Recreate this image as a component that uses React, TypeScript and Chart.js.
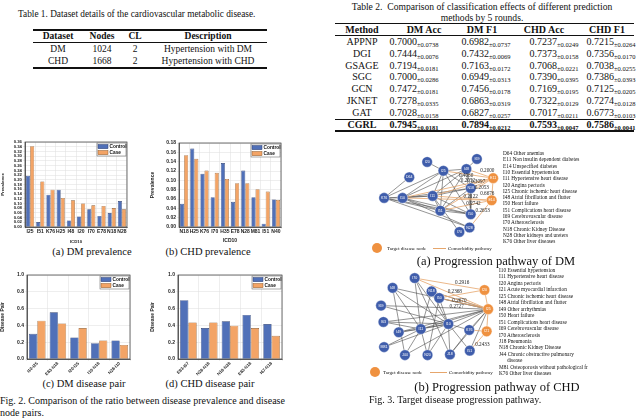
import React, { useEffect, useRef } from 'react';
import { Chart, registerables } from 'chart.js';
Chart.register(...registerables);

// ---------------- data ----------------
const t1Datasets = ['DM', 'CHD'];
const t1Nodes = ['1024', '1668'];
const t1CL = ['2', '2'];
const t1Desc = ['Hypertension with DM', 'Hypertension with CHD'];

const methods = ['APPNP', 'DGI', 'GSAGE', 'SGC', 'GCN', 'JKNET', 'GAT', 'CGRL'];
const dmAcc = ['0.7000', '0.7444', '0.7194', '0.7000', '0.7472', '0.7278', '0.7028', '0.7945'];
const dmAccStd = ['0.0738', '0.0076', '0.0181', '0.0286', '0.0181', '0.0335', '0.0158', '0.0181'];
const dmF1 = ['0.6982', '0.7432', '0.7163', '0.6949', '0.7456', '0.6863', '0.6827', '0.7894'];
const dmF1Std = ['0.0737', '0.0069', '0.0172', '0.0313', '0.0178', '0.0319', '0.0257', '0.0212'];
const chdAcc = ['0.7237', '0.7373', '0.7068', '0.7390', '0.7169', '0.7322', '0.7017', '0.7593'];
const chdAccStd = ['0.0249', '0.0158', '0.0221', '0.0395', '0.0195', '0.0129', '0.0211', '0.0047'];
const chdF1 = ['0.7215', '0.7356', '0.7038', '0.7386', '0.7125', '0.7274', '0.6773', '0.7586'];
const chdF1Std = ['0.0264', '0.0170', '0.0255', '0.0393', '0.0205', '0.0128', '0.0103', '0.0041'];

const dmPrevLabels = ['I25', 'I51', 'K76', 'H25', 'I48', 'I20', 'I70', 'E78', 'N18', 'N28'];
const dmPrevControl = [0.217, 0.021, 0.137, 0.158, 0.028, 0.045, 0.075, 0.047, 0.059, 0.110];
const dmPrevCase = [0.342, 0.193, 0.158, 0.123, 0.113, 0.100, 0.092, 0.089, 0.080, 0.075];

const chdPrevLabels = ['N18', 'H25', 'K76', 'I70', 'H35', 'E78', 'N28', 'M81', 'I51', 'N40'];
const chdPrevControl = [0.050, 0.168, 0.114, 0.064, 0.137, 0.054, 0.121, 0.064, 0.007, 0.059];
const chdPrevCase = [0.154, 0.146, 0.121, 0.116, 0.103, 0.094, 0.094, 0.081, 0.076, 0.058];

const dmPairLabels = ['I10-I25', 'E83-N18', 'I20-I25', 'I10-N18', 'N28-I10'];
const dmPairControl = [0.30, 0.556, 0.256, 0.188, 0.22];
const dmPairCase = [0.456, 0.424, 0.368, 0.22, 0.168];

const chdPairLabels = ['E83-I67', 'N28-N18', 'N18-N28', 'E83-N18', 'I67-N18'];
const chdPairControl = [0.70, 0.368, 0.448, 0.524, 0.416];
const chdPairCase = [0.436, 0.436, 0.396, 0.368, 0.276];

// DM progression network
const dmNodes = ['I20', 'I69', 'I25', 'I48', 'D64', 'E11', 'N18', 'K76', 'I10', 'I11', 'E14', 'I51', 'I50', 'N28', 'I70'];
const dmNodeX = [426.7, 480.7, 444.3, 469.3, 407.3, 498.3, 474, 380, 400, 432.7, 496.7, 441, 474, 472.7, 461.7];
const dmNodeY = [157.7, 154.3, 167.7, 165.7, 175, 176, 187.3, 198.3, 198.3, 196, 201, 212.7, 216.7, 231.7, 236.7];
const dmTargets = ['E11', 'E14'];
const dmGrayEdges = [
  ['K76', 'D64'], ['K76', 'I10'], ['K76', 'I25'], ['K76', 'I11'], ['K76', 'I51'], ['K76', 'I50'], ['K76', 'N28'],
  ['I10', 'I25'], ['I10', 'I48'], ['I10', 'N18'], ['I10', 'I11'], ['I10', 'I51'], ['I10', 'I50'], ['I10', 'N28'],
  ['I20', 'I25'], ['I25', 'I48'], ['I25', 'I11'], ['I25', 'I51'], ['I25', 'I50'], ['I25', 'N18'],
  ['I69', 'I48'], ['I48', 'I11'], ['I48', 'I51'], ['I48', 'N18'], ['I48', 'I50'],
  ['I11', 'N18'], ['I11', 'I51'], ['I11', 'I70'], ['I11', 'I50'], ['I51', 'N18'], ['I51', 'I50'], ['N18', 'I50'],
];
const dmOrangeEdges = [
  ['I25', 'E11'], ['I48', 'E11'], ['I10', 'E11'], ['I11', 'E11'], ['N18', 'E11'], ['I51', 'E11'],
  ['I10', 'E14'], ['I11', 'E14'], ['I51', 'E14'], ['N28', 'E14'], ['E11', 'E14'],
];
const dmWeights = ['0.2000', '0.4060', '0.2052', '0.3097', '0.2053', '0.6676', '0.2122', '0.2742', '0.2653'];
const dmWeightX = [492, 469, 471, 482, 486, 492, 474, 477, 487];
const dmWeightY = [168, 173, 178.5, 180, 187, 193, 197, 205, 213];
const dmLegendLines = [
  'D64 Other anemias', 'E11 Non insulin dependent diabetes', 'E14 Unspecified diabetes', 'I10 Essential hypertension',
  'I11 Hypertensive heart disease', 'I20 Angina pectoris', 'I25 Chronic ischemic heart disease', 'I48 Atrial fibrillation and flutter',
  'I50 Heart failure', 'I51 Complications heart disease', 'I69 Cerebrovascular disease', 'I70 Atherosclerosis',
  'N18 Chronic Kidney Disease', 'N28 Other kidneys and ureters', 'K76 Other liver diseases',
];

// CHD progression network
const chdNodes = ['I70', 'I48', 'N18', 'I50', 'I69', 'I20', 'I25', 'I63', 'I49', 'I11', 'I10', 'K76', 'I21', 'M81', 'J44', 'N20', 'J18', 'I51'];
const chdNodeX = [413.3, 389.3, 431.7, 440, 376.7, 489.3, 493.3, 379.3, 396, 420, 450, 472.7, 491.7, 380, 402.7, 427.3, 451.7, 473.3];
const chdNodeY = [273.3, 284.3, 288.3, 295.7, 304.3, 286.7, 308.3, 322.7, 334.3, 330.7, 325, 331.7, 333.3, 351, 360, 360, 359.3, 355];
const chdTargets = ['I20', 'I25', 'I21'];
const chdGrayEdges = [
  ['I48', 'I11'], ['I48', 'I10'], ['I48', 'J44'], ['I48', 'I25'],
  ['I70', 'I11'], ['I70', 'I10'], ['I70', 'J18'],
  ['I69', 'I10'], ['I69', 'I25'],
  ['I63', 'I10'], ['I63', 'I11'], ['I63', 'I25'],
  ['I49', 'I11'], ['I49', 'I25'], ['I49', 'I10'],
  ['I11', 'I10'], ['I11', 'I25'], ['I11', 'J44'], ['I11', 'N20'], ['I11', 'M81'],
  ['I10', 'I25'], ['I10', 'N20'], ['I10', 'J18'], ['I10', 'I51'], ['I10', 'K76'], ['M81', 'I10'],
  ['N18', 'I10'], ['N18', 'I11'], ['N18', 'I25'],
  ['I50', 'I10'], ['I50', 'N20'], ['I50', 'I25'],
  ['K76', 'I25'], ['K76', 'J18'], ['J44', 'I25'], ['J18', 'I25'], ['I51', 'I25'],
];
const chdOrangeEdges = [
  ['I70', 'I20'], ['I70', 'I25'], ['I50', 'I25'], ['N18', 'I25'], ['I50', 'I20'],
  ['I20', 'I25'], ['I25', 'I21'], ['I51', 'I21'], ['K76', 'I21'],
];
const chdWeights = ['0.2916', '0.2368', '0.2670', '0.2727', '0.2433'];
const chdWeightX = [465, 457, 462, 459, 487];
const chdWeightY = [278, 289, 298.5, 305, 348];
const chdLegendLines = [
  'I10 Essential hypertension', 'I11 Hypertensive heart disease', 'I20 Angina pectoris', 'I21 Acute myocardial infarction',
  'I25 Chronic ischemic heart disease', 'I48 Atrial fibrillation and flutter', 'I49 Other arrhythmias', 'I50 Heart failure',
  'I51 Complications heart disease', 'I69 Cerebrovascular disease', 'I70 Atherosclerosis', 'J18 Pneumonia',
  'N18 Chronic Kidney Disease', 'J44 Chronic obstructive pulmonary', '      disease',
  'M81 Osteoporosis without pathological fr', 'K76 Other liver diseases',
];

// ---------------- styles ----------------
const SERIF = '"Liberation Serif", "DejaVu Serif", serif';
const SANS = '"Liberation Sans", Arial, sans-serif';
const BAR_BLUE = '#5070b8';
const BAR_ORANGE = '#f3a466';
const NODE_BLUE = '#3f5dab';
const NODE_ORANGE = '#ef9140';

const framePlugin = {
  id: 'frame',
  afterDraw(chart: any) {
    const { ctx, chartArea: a } = chart;
    ctx.save();
    ctx.strokeStyle = '#333';
    ctx.lineWidth = 0.7;
    ctx.strokeRect(a.left, a.top, a.right - a.left, a.bottom - a.top);
    // legend box
    const w = 29, h = 13;
    const x = a.right - w - 1, y = a.top + 1;
    ctx.fillStyle = '#fff';
    ctx.fillRect(x, y, w, h);
    ctx.strokeStyle = '#555';
    ctx.lineWidth = 0.5;
    ctx.strokeRect(x, y, w, h);
    chart.data.datasets.forEach((ds: any, i: number) => {
      const yy = y + 1.5 + i * 6;
      ctx.fillStyle = ds.backgroundColor;
      ctx.fillRect(x + 1, yy, 10, 4.2);
      ctx.strokeStyle = ds.borderColor;
      ctx.strokeRect(x + 1, yy, 10, 4.2);
      ctx.fillStyle = '#111';
      ctx.font = `bold 4.8px ${SANS}`;
      ctx.textBaseline = 'middle';
      ctx.fillText(ds.label, x + 12.5, yy + 2.2);
    });
    ctx.restore();
  },
};

function BarPanel(p: any) {
  const ref = useRef<HTMLCanvasElement>(null);
  useEffect(() => {
    const tickFont = { size: p.tickSize, weight: 'bold' as const, family: SANS };
    const chart = new Chart(ref.current!, {
      type: 'bar',
      data: {
        labels: p.labels,
        datasets: [
          { label: 'Control', data: p.control, backgroundColor: BAR_BLUE, borderColor: '#2c3f70', borderWidth: 0.6, categoryPercentage: 0.8, barPercentage: 1 },
          { label: 'Case', data: p.caseVals, backgroundColor: BAR_ORANGE, borderColor: '#8c5a2c', borderWidth: 0.6, categoryPercentage: 0.8, barPercentage: 1 },
        ],
      },
      options: {
        animation: false,
        responsive: false,
        maintainAspectRatio: false,
        layout: { padding: { top: p.padTop, right: p.padRight, left: 0, bottom: 0 } },
        plugins: { legend: { display: false }, tooltip: { enabled: false } },
        scales: {
          x: {
            grid: { color: '#dddddd', lineWidth: 0.5, offset: true, tickLength: 2 },
            border: { color: '#333', width: 0.7 },
            ticks: { font: { ...tickFont, size: p.xTickSize }, color: '#222', padding: 0, autoSkip: false, maxRotation: p.rotate, minRotation: p.rotate },
            title: { display: !!p.xTitle, text: p.xTitle, font: tickFont, color: '#222', padding: { top: 1, bottom: 0 } },
            afterFit: (s: any) => { s.height = p.xHeight; },
          },
          y: {
            min: 0,
            max: p.yMax,
            grid: { color: '#dddddd', lineWidth: 0.5, tickLength: 2 },
            border: { color: '#333', width: 0.7 },
            ticks: { stepSize: p.yStep, autoSkip: false, font: tickFont, color: '#222', padding: 1, callback: (v: any) => Number(v).toFixed(p.decimals) },
            title: { display: true, text: p.yTitle, font: tickFont, color: '#222', padding: 0 },
            afterFit: (s: any) => { s.width = p.yWidth; },
          },
        },
      },
      plugins: [framePlugin],
    });
    return () => chart.destroy();
  }, []);
  return <canvas ref={ref} width={p.width} height={p.height} style={{ position: 'absolute', left: p.left, top: p.top, width: p.width, height: p.height }} />;
}

function NetPanel(p: any) {
  const ref = useRef<HTMLCanvasElement>(null);
  useEffect(() => {
    const idx = (n: string) => p.names.indexOf(n);
    const edges = (pairs: string[][], color: string, w: number, order: number) =>
      pairs.map(([a, b]) => ({
        type: 'line' as const,
        data: [{ x: p.xs[idx(a)], y: p.ys[idx(a)] }, { x: p.xs[idx(b)], y: p.ys[idx(b)] }],
        borderColor: color, borderWidth: w, pointRadius: 0, showLine: true, order,
      }));
    const nodeDs = {
      type: 'scatter' as const,
      data: p.names.map((n: string, i: number) => ({ x: p.xs[i], y: p.ys[i] })),
      pointRadius: 5.3,
      pointBackgroundColor: p.names.map((n: string) => (p.targets.includes(n) ? NODE_ORANGE : NODE_BLUE)),
      pointBorderColor: '#ffffff',
      pointBorderWidth: 0.4,
      order: 0,
    };
    const labelPlugin = {
      id: 'netLabels',
      afterDatasetsDraw(chart: any) {
        const { ctx, scales } = chart;
        ctx.save();
        ctx.textAlign = 'center';
        ctx.textBaseline = 'middle';
        ctx.fillStyle = '#ffffff';
        ctx.font = `3.6px ${SANS}`;
        p.names.forEach((n: string, i: number) => {
          ctx.fillText(n, scales.x.getPixelForValue(p.xs[i]), scales.y.getPixelForValue(p.ys[i]));
        });
        ctx.fillStyle = '#222';
        ctx.font = `5.2px ${SERIF}`;
        p.weights.forEach((w: string, i: number) => {
          ctx.fillText(w, scales.x.getPixelForValue(p.wx[i]), scales.y.getPixelForValue(p.wy[i]));
        });
        ctx.restore();
      },
    };
    const chart = new Chart(ref.current!, {
      type: 'scatter',
      data: { datasets: [...edges(p.gray, '#4d4d4d', 0.6, 2), ...edges(p.orange, '#e6a66c', 0.8, 1), nodeDs] as any },
      options: {
        animation: false,
        responsive: false,
        maintainAspectRatio: false,
        layout: { padding: 0 },
        plugins: { legend: { display: false }, tooltip: { enabled: false } },
        scales: {
          x: { type: 'linear', display: false, min: p.left, max: p.left + p.width },
          y: { type: 'linear', display: false, min: p.top, max: p.top + p.height, reverse: true },
        },
      },
      plugins: [labelPlugin],
    });
    return () => chart.destroy();
  }, []);
  return <canvas ref={ref} width={p.width} height={p.height} style={{ position: 'absolute', left: p.left, top: p.top, width: p.width, height: p.height }} />;
}

const Txt = ({ x, y, children, size = 10, bold = false, center = false, family = SERIF }: any) => (
  <div style={{
    position: 'absolute', left: x, top: y, transform: center ? 'translate(-50%,-50%)' : 'translateY(-50%)',
    fontSize: size, fontWeight: bold ? 700 : 400, fontFamily: family, whiteSpace: 'pre', lineHeight: 1, color: '#111',
  }}>{children}</div>
);
const Rule = ({ x1, x2, y, w = 1 }: any) => (
  <div style={{ position: 'absolute', left: x1, top: y - w / 2, width: x2 - x1, height: w, background: '#111' }} />
);
const Val = ({ v, s, bold }: any) => (
  <span style={{ fontWeight: bold ? 700 : 400 }}>{v}<span style={{ fontSize: 6.5, position: 'relative', top: 2 }}>±{s}</span></span>
);

export default function App() {
  const t2Cols = [414, 486, 554, 611];
  const t2Vals = [[dmAcc, dmAccStd], [dmF1, dmF1Std], [chdAcc, chdAccStd], [chdF1, chdF1Std]];
  return (
    <div style={{ position: 'fixed', left: 0, top: 0, width: 640, height: 419, background: '#fff', overflow: 'hidden' }}>
      {/* Table 1 */}
      <Txt x={18} y={15} size={9.3}>Table 1. Dataset details of the cardiovascular metabolic disease.</Txt>
      <Rule x1={33} x2={267} y={30} w={1.3} />
      <Txt x={58} y={36.5} size={9.5} bold center>Dataset</Txt>
      <Txt x={102} y={36.5} size={9.5} bold center>Nodes</Txt>
      <Txt x={135} y={36.5} size={9.5} bold center>CL</Txt>
      <Txt x={208} y={36.5} size={9.5} bold center>Description</Txt>
      <Rule x1={33} x2={267} y={42.5} w={0.7} />
      {t1Datasets.map((d, i) => (
        <React.Fragment key={d}>
          <Txt x={58} y={50 + i * 11.5} size={9.5} center>{d}</Txt>
          <Txt x={102} y={50 + i * 11.5} size={9.5} center>{t1Nodes[i]}</Txt>
          <Txt x={135} y={50 + i * 11.5} size={9.5} center>{t1CL[i]}</Txt>
          <Txt x={208} y={50 + i * 11.5} size={9.5} center>{t1Desc[i]}</Txt>
        </React.Fragment>
      ))}
      <Rule x1={33} x2={267} y={68} w={1.3} />

      {/* Table 2 */}
      <Txt x={482} y={7} size={9.6} center>Table 2.  Comparison of classification effects of different prediction</Txt>
      <Txt x={482} y={18} size={9.6} center>methods by 5 rounds.</Txt>
      <Rule x1={335} x2={634} y={23.5} w={1.3} />
      <Txt x={362} y={29.5} size={10} bold center>Method</Txt>
      <Txt x={424} y={29.5} size={10} bold center>DM Acc</Txt>
      <Txt x={482} y={29.5} size={10} bold center>DM F1</Txt>
      <Txt x={544} y={29.5} size={10} bold center>CHD Acc</Txt>
      <Txt x={607} y={29.5} size={10} bold center>CHD F1</Txt>
      <Rule x1={335} x2={634} y={35.5} w={0.7} />
      {methods.map((m, i) => {
        const y = 41.7 + i * 11.9;
        const bold = m === 'CGRL';
        return (
          <React.Fragment key={m}>
            <Txt x={362} y={y} size={10} bold={bold} center>{m}</Txt>
            {t2Vals.map(([v, s], j) => (
              <Txt key={j} x={t2Cols[j]} y={y} size={10} center><Val v={v[i]} s={s[i]} bold={bold} /></Txt>
            ))}
          </React.Fragment>
        );
      })}
      <Rule x1={335} x2={634} y={119.5} w={0.6} />
      <Rule x1={335} x2={634} y={131} w={1.3} />

      {/* Fig. 2 charts */}
      <BarPanel left={0} top={138} width={132} height={106} yWidth={25} padTop={4} padRight={5} xHeight={17}
        labels={dmPrevLabels} control={dmPrevControl} caseVals={dmPrevCase} yMax={0.36} yStep={0.02} decimals={2}
        yTitle="Prevalence" xTitle="ICD10" rotate={0} tickSize={4.3} xTickSize={5} />
      <BarPanel left={150} top={138} width={136} height={106} yWidth={29} padTop={5} padRight={5} xHeight={17}
        labels={chdPrevLabels} control={chdPrevControl} caseVals={chdPrevCase} yMax={0.18} yStep={0.02} decimals={2}
        yTitle="Prevalence" xTitle="ICD10" rotate={0} tickSize={5} xTickSize={5} />
      <Txt x={92} y={252} size={10.5} center>(a) DM prevalence</Txt>
      <Txt x={208} y={252} size={10.5} center>(b) CHD prevalence</Txt>

      <BarPanel left={0} top={268} width={134} height={108} yWidth={27} padTop={7} padRight={4} xHeight={17}
        labels={dmPairLabels} control={dmPairControl} caseVals={dmPairCase} yMax={1.0} yStep={0.2} decimals={1}
        yTitle="Disease Pair" xTitle="" rotate={45} tickSize={5} xTickSize={4.3} />
      <BarPanel left={150} top={268} width={136} height={108} yWidth={28} padTop={7} padRight={4} xHeight={17}
        labels={chdPairLabels} control={chdPairControl} caseVals={chdPairCase} yMax={1.0} yStep={0.2} decimals={1}
        yTitle="Disease Pair" xTitle="" rotate={45} tickSize={5} xTickSize={4.3} />
      <Txt x={84} y={384} size={10.5} center>(c) DM disease pair</Txt>
      <Txt x={210} y={384} size={10.5} center>(d) CHD disease pair</Txt>
      <Txt x={0} y={401} size={10}>Fig. 2. Comparison of the ratio between disease prevalence and disease</Txt>
      <Txt x={0} y={413} size={10}>node pairs.</Txt>

      {/* Fig. 3 networks */}
      <NetPanel left={360} top={145} width={145} height={100} names={dmNodes} xs={dmNodeX} ys={dmNodeY} targets={dmTargets}
        gray={dmGrayEdges} orange={dmOrangeEdges} weights={dmWeights} wx={dmWeightX} wy={dmWeightY} />
      {dmLegendLines.map((l, i) => (
        <Txt key={l} x={503} y={154 + i * 6.3} size={5.3}>{l}</Txt>
      ))}
      <div style={{ position: 'absolute', left: 372, top: 243, width: 10, height: 10, borderRadius: 5, background: NODE_ORANGE }} />
      <Txt x={387} y={248} size={5}>Target disease node</Txt>
      <div style={{ position: 'absolute', left: 433, top: 247.7, width: 13, height: 0.8, background: '#e6a66c' }} />
      <Txt x={448} y={248} size={5}>Comorbidity pathway</Txt>
      <Txt x={496} y={261} size={12.5} center>(a) Progression pathway of DM</Txt>

      <NetPanel left={360} top={265} width={140} height={102} names={chdNodes} xs={chdNodeX} ys={chdNodeY} targets={chdTargets}
        gray={chdGrayEdges} orange={chdOrangeEdges} weights={chdWeights} wx={chdWeightX} wy={chdWeightY} />
      {chdLegendLines.map((l, i) => (
        <Txt key={i} x={499} y={271 + i * 6.45} size={5.3}>{l}</Txt>
      ))}
      <div style={{ position: 'absolute', left: 370, top: 367, width: 10, height: 10, borderRadius: 5, background: NODE_ORANGE }} />
      <Txt x={383} y={372} size={5}>Target disease node</Txt>
      <div style={{ position: 'absolute', left: 430, top: 371.7, width: 17, height: 0.8, background: '#e6a66c' }} />
      <Txt x={449} y={372} size={5}>Comorbidity pathway</Txt>
      <Txt x={497} y={387} size={12.5} center>(b) Progression pathway of CHD</Txt>
      <Txt x={369} y={400} size={10}>Fig. 3. Target disease progression pathway.</Txt>
    </div>
  );
}
